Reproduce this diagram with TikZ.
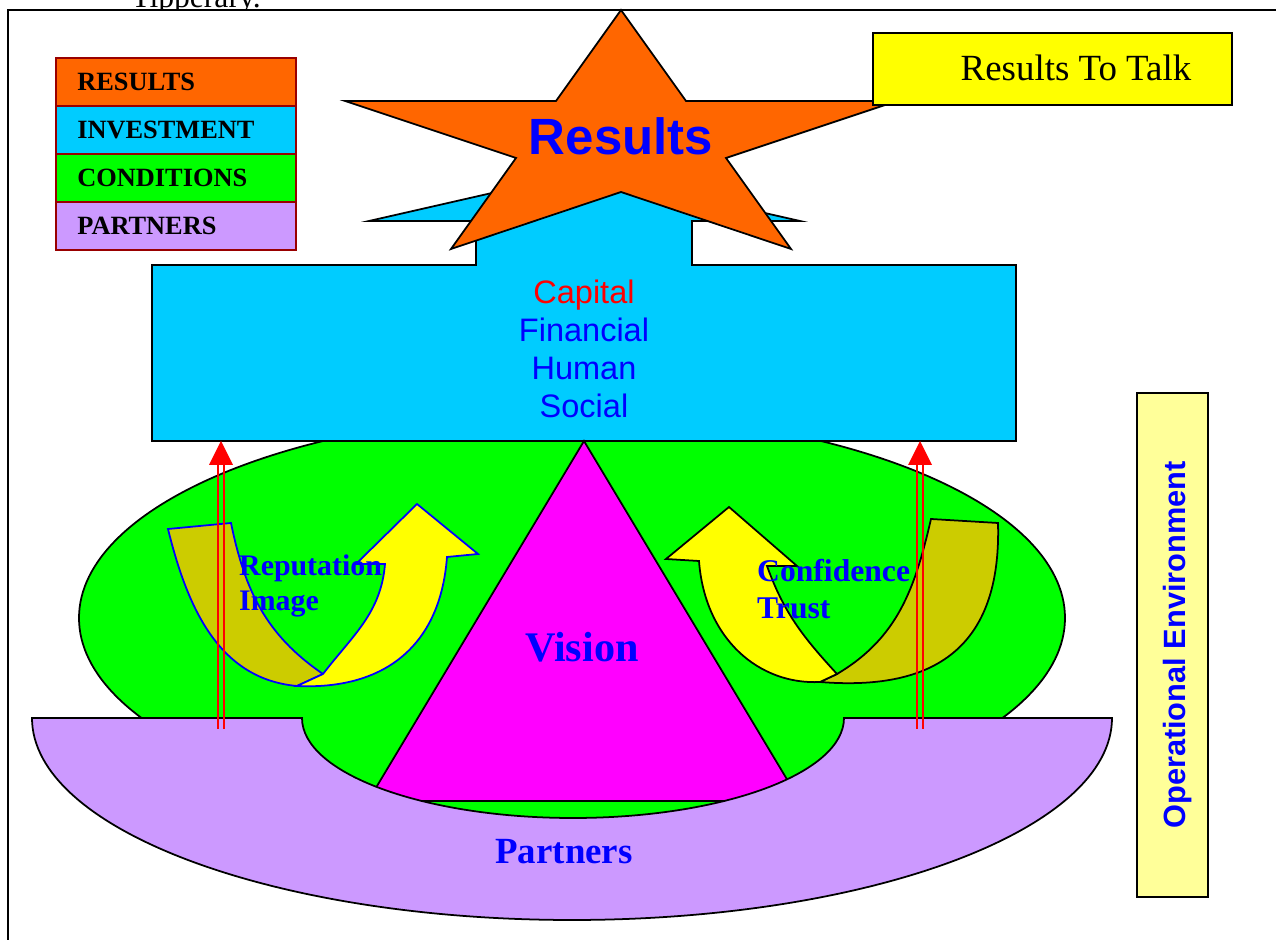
\documentclass[tikz,border=0pt]{standalone}
\usepackage{fontspec}
\setmainfont{Liberation Serif}
\setsansfont{Liberation Sans}
\usetikzlibrary{arrows.meta}

\definecolor{resorange}{RGB}{255,102,0}
\definecolor{invcyan}{RGB}{0,204,255}
\definecolor{condgreen}{RGB}{0,255,0}
\definecolor{partlilac}{RGB}{204,153,255}
\definecolor{visionpink}{RGB}{255,0,255}
\definecolor{talkyellow}{RGB}{255,255,0}
\definecolor{envyellow}{RGB}{255,255,153}
\definecolor{bandolive}{RGB}{204,204,0}
\definecolor{keyedge}{RGB}{153,0,0}
\definecolor{txtblue}{RGB}{0,0,255}

\begin{document}
\begin{tikzpicture}[x=0.02cm, y=0.02cm, line join=miter,
    outline/.style={draw=black, line width=1pt},
    keybox/.style={draw=keyedge, line width=1pt},
    keytext/.style={anchor=west, inner sep=0, font=\bfseries\fontsize{15}{18}\selectfont},
    uparrow/.style={red, line width=1.1pt}]

    % Define pixel unit
    \def\u{0.02cm}

    \useasboundingbox (0,0) rectangle (1276,940);

    % Page text cut off by the frame
    \node[anchor=base, inner sep=0, font=\fontsize{18}{20}\selectfont] (town) at (196,932) {Tipperary.};

    % Frame
    \draw[fill=white, line width=1.2pt] (8,-20) rectangle (1300,930);

    % Key
    \foreach \name/\col [count=\i] in {RESULTS/resorange, INVESTMENT/invcyan, CONDITIONS/condgreen, PARTNERS/partlilac} {
        \draw[keybox, fill=\col] (56,{882-48*(\i-1)}) rectangle ++(240,-48);
        \node[keytext] (key\i) at (77,{858-48*(\i-1)}) {\name};
    }

    % Conditions
    \draw[outline, fill=condgreen] (572,322) ellipse[x radius={493*\u}, y radius={205*\u}];

    % Investment
    \draw[outline, fill=invcyan] (152,499) -- (152,675) -- (476,675) -- (476,719) -- (369,719)
        -- (584,768) -- (800,719) -- (692,719) -- (692,675) -- (1016,675) -- (1016,499) -- cycle;
    \node[align=center, text=txtblue, font=\sffamily\fontsize{18.5}{21.5}\selectfont] (capital) at (584,591)
        {\textcolor{red}{Capital}\\Financial\\Human\\Social};

    % Results star
    \draw[outline, fill=resorange] (621,930) -- (686,839) -- (897,839) -- (726,782) -- (791,691)
        -- (621,748) -- (451,691) -- (516,782) -- (345,839) -- (556,839) -- cycle;
    \node[text=txtblue, font=\sffamily\bfseries\fontsize{29}{32}\selectfont] (results) at (621,804) {Results};

    % Results to talk
    \draw[outline, fill=talkyellow] (873,835) rectangle (1232,907);
    \node[font=\fontsize{21}{24}\selectfont] (talk) at (1076,872) {Results To Talk};

    % Vision
    \draw[outline, fill=visionpink] (584,499) -- (800,139) -- (368,139) -- cycle;

    % Left curved arrow
    \draw[draw=txtblue, line width=1pt, fill=bandolive] (168,411) -- (231,417)
        .. controls (245,349) and (266,305) .. (323,266) -- (297,254)
        .. controls (218,261) and (187,334) .. (168,411) -- cycle;
    \draw[draw=txtblue, line width=1pt, fill=talkyellow] (323,266)
        .. controls (353,305) and (381,327) .. (385,376) -- (356,376) -- (417,436) -- (478,386) -- (447,383)
        .. controls (440,290) and (380,250) .. (297,254) -- cycle;

    % Right curved arrow
    \draw[outline, fill=bandolive] (998,417) -- (931,421)
        .. controls (915,352) and (898,302) .. (837,266) -- (820,258)
        .. controls (920,250) and (1002,280) .. (998,417) -- cycle;
    \draw[outline, fill=talkyellow] (837,266)
        .. controls (803,303) and (784,327) .. (767,374) -- (797,374) -- (729,433) -- (666,381) -- (699,379)
        .. controls (705,300) and (760,255) .. (820,258) -- cycle;

    % Partners
    \draw[outline, fill=partlilac] (32,222) -- (302,222)
        arc[start angle=180, end angle=360, x radius={271*\u}, y radius={100*\u}]
        -- (1112,222)
        arc[start angle=0, end angle=-180, x radius={540*\u}, y radius={202*\u}] -- cycle;

    % Upward arrows
    \coordinate (lfoot) at (221,211);
    \coordinate (lneck) at (221,475);
    \coordinate (lhead) at (221,499);
    \coordinate (rfoot) at (920,211);
    \coordinate (rneck) at (920,475);
    \coordinate (rhead) at (920,499);
    \foreach \s in {-3,3} {
        \draw[uparrow] ([xshift=\s*\u]lfoot) -- ([xshift=\s*\u]lneck);
        \draw[uparrow] ([xshift=\s*\u]rfoot) -- ([xshift=\s*\u]rneck);
    }
    \fill[red] (lhead) -- ([xshift=-12*\u]lneck) -- ([xshift=12*\u]lneck) -- cycle;
    \fill[red] (rhead) -- ([xshift=-12*\u]rneck) -- ([xshift=12*\u]rneck) -- cycle;

    % Labels
    \node[anchor=west, align=left, text=txtblue, font=\bfseries\fontsize{17}{19.5}\selectfont] (rep) at (233,354) {Reputation\\Image};
    \node[anchor=west, align=left, text=txtblue, font=\bfseries\fontsize{18}{21}\selectfont] (conf) at (751,351) {Confidence\\Trust};
    \node[text=txtblue, font=\bfseries\fontsize{24}{28}\selectfont] (vision) at (582,293) {Vision};
    \node[text=txtblue, font=\bfseries\fontsize{21}{24}\selectfont] (partners) at (564,88) {Partners};

    % Operational environment
    \draw[outline, fill=envyellow] (1137,43) rectangle (1208,547);
    \node[rotate=90, text=txtblue, font=\sffamily\bfseries\fontsize{17.5}{20}\selectfont] (env) at (1178,295) {Operational Environment};

\end{tikzpicture}
\end{document}
